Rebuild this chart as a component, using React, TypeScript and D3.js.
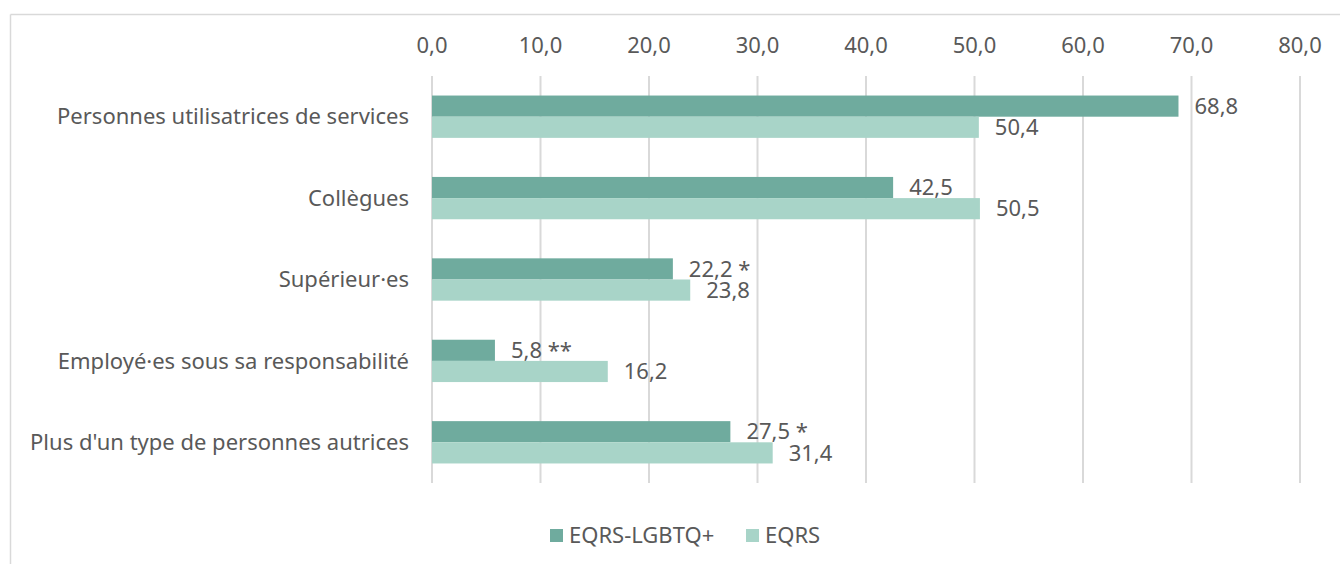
import React from "react";
import * as d3 from "d3";

const categories = [
  "Personnes utilisatrices de services",
  "Collègues",
  "Supérieur·es",
  "Employé·es sous sa responsabilité",
  "Plus d'un type de personnes autrices",
];
const seriesNames = ["EQRS-LGBTQ+", "EQRS"];
const lgbtqValues = [68.8, 42.5, 22.2, 5.8, 27.5];
const lgbtqMarks = ["", "", " *", " **", " *"];
const eqrsValues = [50.4, 50.5, 23.8, 16.2, 31.4];
const eqrsMarks = ["", "", "", "", ""];
const ticks = [0, 10, 20, 30, 40, 50, 60, 70, 80];
const colors = ["#6FAB9E", "#A8D4C8"];

const W = 1340;
const H = 564;
const FONT = "'Noto Sans', sans-serif";
const TXT = "#595959";
const FS = 22;

const fmt = (v: number) => v.toFixed(1).replace(".", ",");

export default function App() {
  const x = d3.scaleLinear().domain([0, 80]).range([432, 1300]);
  const y = d3.scaleBand<string>().domain(categories).range([76, 483]).paddingInner(0.48).paddingOuter(0.24);
  const inner = d3.scaleBand<string>().domain(seriesNames).range([0, y.bandwidth()]);
  const series = [
    { name: seriesNames[0], values: lgbtqValues, marks: lgbtqMarks, color: colors[0] },
    { name: seriesNames[1], values: eqrsValues, marks: eqrsMarks, color: colors[1] },
  ];
  return (
    <svg width={W} height={H} style={{ position: "absolute", left: 0, top: 0, background: "#fff" }}>
      <line x1={10.5} x2={W} y1={14.5} y2={14.5} stroke="#d9d9d9" strokeWidth={1.5} />
      <line x1={10.5} x2={10.5} y1={14.5} y2={H} stroke="#d9d9d9" strokeWidth={1.5} />
      {ticks.map((t) => (
        <g key={t}>
          <line x1={x(t)} x2={x(t)} y1={76} y2={483} stroke="#d9d9d9" strokeWidth={2} />
          <text x={x(t)} y={45} dy="0.35em" textAnchor="middle" fontFamily={FONT} fontSize={FS} fill={TXT}>
            {fmt(t)}
          </text>
        </g>
      ))}
      {categories.map((c, i) => (
        <g key={c}>
          <text
            x={409}
            y={(y(c) as number) + y.bandwidth() / 2}
            dy="0.35em"
            textAnchor="end"
            fontFamily={FONT}
            fontSize={FS}
            fill={TXT}
          >
            {c}
          </text>
          {series.map((s) => {
            const by = (y(c) as number) + (inner(s.name) as number);
            const v = s.values[i];
            return (
              <g key={s.name}>
                <rect x={x(0)} y={by} width={x(v) - x(0)} height={inner.bandwidth()} fill={s.color} />
                <text
                  x={x(v) + 16}
                  y={by + inner.bandwidth() / 2}
                  dy="0.35em"
                  fontFamily={FONT}
                  fontSize={FS}
                  fill={TXT}
                >
                  {fmt(v) + s.marks[i]}
                </text>
              </g>
            );
          })}
        </g>
      ))}
      {series.map((s, i) => {
        const lx = i === 0 ? 550 : 746;
        return (
          <g key={s.name}>
            <rect x={lx} y={529} width={13} height={13} fill={s.color} />
            <text x={lx + 19} y={535.5} dy="0.35em" fontFamily={FONT} fontSize={FS} fill={TXT}>
              {s.name}
            </text>
          </g>
        );
      })}
    </svg>
  );
}
